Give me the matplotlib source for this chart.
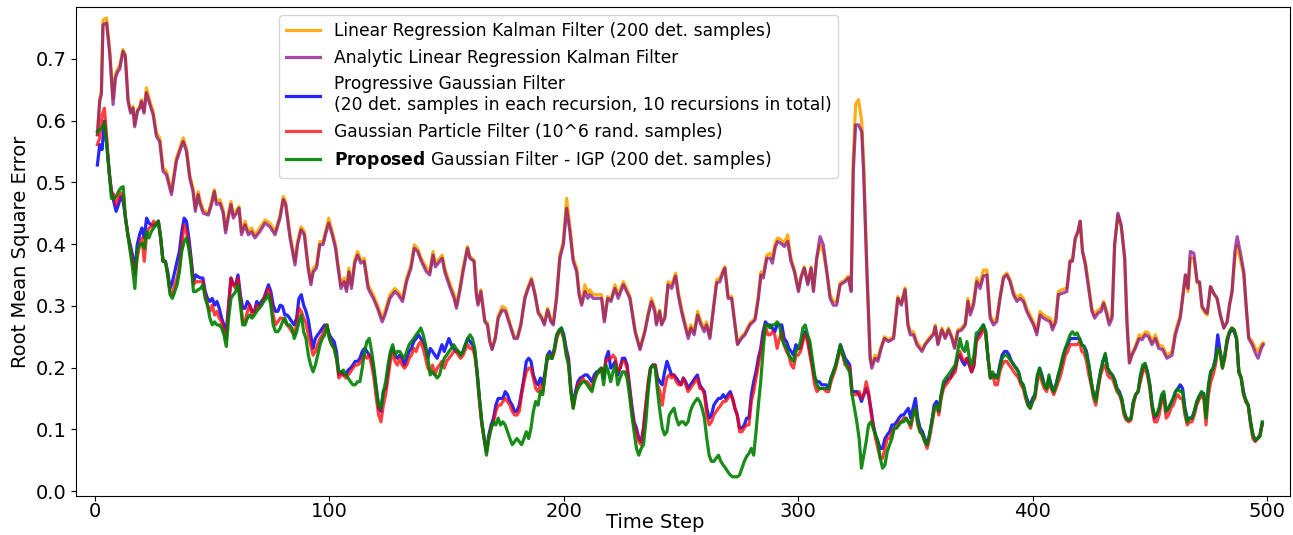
import matplotlib.pyplot as plt
import numpy as np

# RMSE per time step; the two Kalman-type curves are stored at their turning points
t_upper = [
    1, 2, 2.7, 3.4, 4.9, 6.3, 7.7, 8.7, 9.8, 10.5,
    11.9, 12.9, 14.1, 15.2, 16.2, 16.9, 18.1, 19.1, 19.8, 20.9,
    21.9, 23.4, 24.8, 26.2, 27.6, 29.0, 30.5, 32.6, 34.7, 36.1,
    37.6, 39.0, 40.4, 41.8, 42.8, 44.0, 44.7, 46.2, 48.3, 49.7,
    50.9, 51.8, 53.3, 54.7, 55.7, 56.8, 58.0, 59.0, 60.4, 61.4,
    62.5, 64.0, 65.4, 66.8, 68.2, 70.3, 72.5, 74.6, 76.8, 78.9,
    80.3, 81.3, 83.2, 85.3, 86.4, 87.9, 89.3, 90.9, 92.1, 93.1,
    94.5, 95.9, 97.3, 98.3, 99.7, 101.2, 102.6, 103.7, 104.9, 106.3,
    107.3, 108.3, 109.4, 110.8, 112.0, 113.4, 114.8, 116.5, 118.7, 120.5,
    121.5, 122.5, 123.7, 125.8, 127.9, 129.3, 131.2, 132.9, 134.8, 136.2,
    137.6, 139.2, 141.4, 142.8, 144.2, 145.2, 147.1, 148.1, 149.2, 151.3,
    153.2, 154.2, 155.6, 157.0, 158.9, 159.9, 161.7, 162.7, 163.4, 164.6,
    166.3, 167.4, 168.4, 169.4, 170.8, 172.0, 173.7, 175.1, 177.0, 178.8,
    180.2, 181.7, 183.4, 184.8, 186.2, 187.7, 189.1, 190.5, 191.7, 193.1,
    194.5, 195.5, 196.9, 198.3, 199.8, 201.2, 202.6, 204.0, 205.5, 206.5,
    207.6, 209.0, 210.2, 211.1, 212.6, 214.0, 216.1, 217.3, 218.7, 220.1,
    221.8, 223.2, 225.4, 226.8, 228.2, 230.4, 232.5, 234.6, 236.0, 237.4,
    238.8, 239.5, 240.9, 241.7, 243.1, 244.5, 246.0, 247.7, 248.8, 250.2,
    251.6, 253.1, 254.2, 255.6, 257.1, 258.5, 259.9, 260.9, 262.3, 263.7,
    265.2, 266.6, 268.0, 268.7, 270.1, 271.6, 273.0, 274.1, 275.8, 277.3,
    279.4, 281.6, 283.0, 284.1, 285.1, 286.6, 288.0, 289.0, 290.1, 291.2,
    292.7, 294.1, 295.5, 296.9, 298.4, 300.1, 301.2, 302.6, 304.1, 305.5,
    306.5, 307.9, 309.3, 310.7, 312.2, 313.6, 315.0, 316.4, 317.9, 320.0,
    321.4, 322.6, 323.5, 324.5, 325.7, 327.1, 327.9, 329.3, 330.7, 331.4,
    332.8, 334.0, 335.4, 336.8, 338.5, 340.7, 342.5, 344.0, 345.6, 346.8,
    347.8, 349.2, 350.6, 352.8, 354.2, 356.3, 357.7, 358.5, 359.6, 361.3,
    362.7, 364.1, 365.6, 366.7, 368.1, 369.8, 371.3, 372.4, 373.4, 374.8,
    376.2, 377.6, 379.0, 380.5, 381.9, 383.3, 384.7, 386.1, 387.6, 389.0,
    390.4, 391.8, 393.3, 394.7, 396.1, 397.5, 398.9, 400.4, 401.8, 403.2,
    404.6, 406.1, 407.5, 408.5, 409.9, 411.0, 412.5, 414.6, 416.0, 417.0,
    418.2, 419.3, 420.3, 421.3, 422.5, 423.9, 425.3, 426.5, 427.9, 429.3,
    430.3, 431.7, 432.7, 433.9, 435.0, 436.4, 437.8, 439.3, 440.3, 441.3,
    442.4, 443.8, 445.5, 446.7, 448.1, 449.5, 450.9, 452.4, 453.8, 455.5,
    457.3, 459.5, 460.9, 463.0, 464.0, 465.2, 466.3, 467.3, 468.8, 470.2,
    471.2, 472.3, 473.7, 474.5, 475.9, 477.3, 478.7, 480.1, 481.6, 483.0,
    484.0, 485.1, 486.3, 487.3, 488.7, 490.1, 491.1, 492.2, 493.7, 495.1,
    496.2, 497.6, 498.4,
]

lrkf_rmse = [
    0.577, 0.636, 0.647, 0.763, 0.766, 0.712, 0.636, 0.675, 0.685, 0.688,
    0.715, 0.707, 0.634, 0.615, 0.623, 0.593, 0.618, 0.623, 0.634, 0.615,
    0.653, 0.631, 0.615, 0.580, 0.572, 0.523, 0.518, 0.485, 0.539, 0.555,
    0.572, 0.555, 0.512, 0.491, 0.458, 0.485, 0.472, 0.455, 0.450, 0.469,
    0.488, 0.469, 0.472, 0.455, 0.423, 0.447, 0.469, 0.447, 0.455, 0.461,
    0.420, 0.437, 0.420, 0.426, 0.415, 0.426, 0.439, 0.434, 0.420, 0.445,
    0.477, 0.469, 0.415, 0.372, 0.404, 0.428, 0.420, 0.366, 0.339, 0.361,
    0.366, 0.404, 0.404, 0.420, 0.442, 0.420, 0.399, 0.366, 0.334, 0.345,
    0.328, 0.361, 0.334, 0.374, 0.388, 0.374, 0.377, 0.334, 0.318, 0.301,
    0.291, 0.280, 0.291, 0.318, 0.328, 0.323, 0.312, 0.345, 0.366, 0.399,
    0.393, 0.377, 0.361, 0.355, 0.388, 0.369, 0.377, 0.382, 0.361, 0.337,
    0.318, 0.301, 0.328, 0.361, 0.396, 0.380, 0.374, 0.320, 0.304, 0.326,
    0.277, 0.272, 0.245, 0.231, 0.250, 0.283, 0.299, 0.296, 0.272, 0.250,
    0.250, 0.272, 0.315, 0.331, 0.345, 0.320, 0.291, 0.283, 0.272, 0.296,
    0.277, 0.272, 0.315, 0.382, 0.404, 0.474, 0.428, 0.377, 0.361, 0.323,
    0.304, 0.334, 0.320, 0.326, 0.318, 0.318, 0.318, 0.277, 0.315, 0.310,
    0.334, 0.318, 0.339, 0.328, 0.315, 0.261, 0.231, 0.261, 0.288, 0.312,
    0.296, 0.272, 0.293, 0.272, 0.283, 0.339, 0.334, 0.353, 0.323, 0.296,
    0.274, 0.253, 0.269, 0.258, 0.291, 0.274, 0.264, 0.274, 0.250, 0.293,
    0.342, 0.345, 0.358, 0.363, 0.315, 0.315, 0.272, 0.239, 0.250, 0.256,
    0.272, 0.280, 0.315, 0.355, 0.350, 0.382, 0.385, 0.377, 0.401, 0.410,
    0.407, 0.401, 0.415, 0.377, 0.358, 0.326, 0.348, 0.363, 0.337, 0.363,
    0.326, 0.377, 0.399, 0.388, 0.355, 0.318, 0.307, 0.307, 0.337, 0.342,
    0.348, 0.326, 0.540, 0.626, 0.634, 0.599, 0.530, 0.361, 0.218, 0.204,
    0.220, 0.215, 0.234, 0.250, 0.245, 0.250, 0.315, 0.304, 0.329, 0.272,
    0.258, 0.258, 0.242, 0.229, 0.239, 0.250, 0.256, 0.269, 0.239, 0.264,
    0.250, 0.264, 0.250, 0.234, 0.261, 0.264, 0.272, 0.312, 0.291, 0.307,
    0.345, 0.334, 0.358, 0.358, 0.285, 0.274, 0.280, 0.315, 0.348, 0.353,
    0.342, 0.323, 0.312, 0.318, 0.312, 0.296, 0.285, 0.274, 0.258, 0.291,
    0.285, 0.282, 0.280, 0.266, 0.280, 0.323, 0.326, 0.329, 0.374, 0.374,
    0.407, 0.418, 0.437, 0.388, 0.372, 0.334, 0.296, 0.285, 0.293, 0.296,
    0.307, 0.291, 0.274, 0.285, 0.399, 0.447, 0.428, 0.377, 0.272, 0.210,
    0.223, 0.234, 0.253, 0.250, 0.258, 0.256, 0.242, 0.253, 0.237, 0.234,
    0.220, 0.226, 0.258, 0.285, 0.315, 0.350, 0.323, 0.377, 0.377, 0.337,
    0.337, 0.296, 0.288, 0.285, 0.331, 0.320, 0.312, 0.285, 0.264, 0.274,
    0.301, 0.323, 0.377, 0.397, 0.374, 0.350, 0.299, 0.250, 0.242, 0.231,
    0.226, 0.237, 0.240,
]

alrkf_rmse = [
    0.577, 0.631, 0.642, 0.755, 0.758, 0.707, 0.626, 0.669, 0.680, 0.683,
    0.712, 0.704, 0.631, 0.612, 0.620, 0.590, 0.615, 0.620, 0.631, 0.612,
    0.645, 0.626, 0.609, 0.574, 0.566, 0.518, 0.512, 0.480, 0.534, 0.550,
    0.566, 0.550, 0.507, 0.485, 0.453, 0.480, 0.466, 0.450, 0.447, 0.464,
    0.485, 0.464, 0.466, 0.450, 0.418, 0.442, 0.464, 0.442, 0.450, 0.458,
    0.415, 0.431, 0.415, 0.420, 0.410, 0.420, 0.434, 0.428, 0.415, 0.442,
    0.472, 0.464, 0.410, 0.366, 0.399, 0.423, 0.415, 0.361, 0.334, 0.355,
    0.361, 0.399, 0.399, 0.415, 0.434, 0.415, 0.393, 0.361, 0.328, 0.339,
    0.323, 0.355, 0.328, 0.369, 0.382, 0.369, 0.372, 0.328, 0.312, 0.296,
    0.285, 0.274, 0.285, 0.312, 0.323, 0.318, 0.307, 0.339, 0.361, 0.393,
    0.388, 0.372, 0.355, 0.350, 0.382, 0.363, 0.372, 0.377, 0.355, 0.331,
    0.312, 0.296, 0.323, 0.355, 0.393, 0.377, 0.372, 0.318, 0.301, 0.323,
    0.274, 0.269, 0.242, 0.229, 0.247, 0.280, 0.293, 0.291, 0.269, 0.247,
    0.247, 0.269, 0.312, 0.328, 0.342, 0.318, 0.288, 0.280, 0.269, 0.293,
    0.274, 0.269, 0.312, 0.377, 0.399, 0.458, 0.420, 0.372, 0.355, 0.318,
    0.301, 0.323, 0.312, 0.318, 0.312, 0.312, 0.312, 0.274, 0.312, 0.307,
    0.328, 0.312, 0.334, 0.323, 0.312, 0.258, 0.229, 0.258, 0.285, 0.307,
    0.291, 0.269, 0.291, 0.269, 0.280, 0.334, 0.328, 0.348, 0.318, 0.291,
    0.269, 0.247, 0.264, 0.253, 0.285, 0.269, 0.258, 0.269, 0.247, 0.291,
    0.337, 0.339, 0.355, 0.361, 0.312, 0.312, 0.269, 0.237, 0.247, 0.253,
    0.269, 0.277, 0.312, 0.350, 0.345, 0.377, 0.377, 0.369, 0.393, 0.404,
    0.401, 0.396, 0.404, 0.372, 0.355, 0.323, 0.345, 0.361, 0.334, 0.361,
    0.323, 0.377, 0.412, 0.399, 0.355, 0.312, 0.301, 0.301, 0.334, 0.339,
    0.345, 0.323, 0.518, 0.593, 0.593, 0.582, 0.518, 0.355, 0.215, 0.199,
    0.215, 0.210, 0.231, 0.247, 0.242, 0.247, 0.312, 0.301, 0.326, 0.269,
    0.253, 0.253, 0.237, 0.226, 0.237, 0.247, 0.253, 0.266, 0.237, 0.261,
    0.247, 0.261, 0.247, 0.231, 0.258, 0.261, 0.269, 0.307, 0.285, 0.301,
    0.339, 0.328, 0.348, 0.350, 0.280, 0.269, 0.274, 0.312, 0.345, 0.350,
    0.339, 0.318, 0.307, 0.312, 0.307, 0.291, 0.280, 0.269, 0.253, 0.285,
    0.280, 0.277, 0.274, 0.261, 0.274, 0.318, 0.320, 0.323, 0.372, 0.372,
    0.410, 0.420, 0.437, 0.388, 0.366, 0.328, 0.291, 0.280, 0.288, 0.291,
    0.304, 0.285, 0.269, 0.280, 0.399, 0.450, 0.431, 0.377, 0.269, 0.207,
    0.220, 0.231, 0.247, 0.245, 0.253, 0.250, 0.237, 0.247, 0.231, 0.229,
    0.215, 0.220, 0.253, 0.280, 0.312, 0.350, 0.328, 0.388, 0.385, 0.339,
    0.339, 0.299, 0.291, 0.288, 0.331, 0.320, 0.312, 0.285, 0.264, 0.274,
    0.301, 0.323, 0.388, 0.412, 0.385, 0.355, 0.301, 0.247, 0.237, 0.223,
    0.215, 0.231, 0.237,
]

# sample-based filters, one value per time step starting at step 1
pgf_rmse = [
    0.528, 0.561, 0.553, 0.599, 0.561, 0.518, 0.485, 0.469, 0.453, 0.464,
    0.477, 0.469, 0.442, 0.415, 0.399, 0.382, 0.355, 0.399, 0.415, 0.426,
    0.410, 0.442, 0.434, 0.431, 0.431, 0.431, 0.437, 0.410, 0.372, 0.372,
    0.355, 0.328, 0.339, 0.355, 0.372, 0.388, 0.420, 0.442, 0.437, 0.410,
    0.377, 0.339, 0.350, 0.347, 0.345, 0.345, 0.323, 0.312, 0.307, 0.312,
    0.301, 0.307, 0.296, 0.280, 0.269, 0.258, 0.301, 0.345, 0.334, 0.334,
    0.350, 0.318, 0.296, 0.296, 0.307, 0.301, 0.291, 0.291, 0.307, 0.301,
    0.307, 0.312, 0.323, 0.334, 0.323, 0.301, 0.291, 0.291, 0.301, 0.299,
    0.285, 0.285, 0.280, 0.274, 0.269, 0.280, 0.312, 0.318, 0.301, 0.291,
    0.277, 0.253, 0.231, 0.247, 0.253, 0.258, 0.264, 0.269, 0.266, 0.253,
    0.247, 0.242, 0.226, 0.188, 0.193, 0.188, 0.188, 0.196, 0.199, 0.204,
    0.210, 0.210, 0.215, 0.226, 0.231, 0.226, 0.220, 0.215, 0.193, 0.166,
    0.134, 0.129, 0.161, 0.166, 0.193, 0.220, 0.231, 0.220, 0.215, 0.220,
    0.215, 0.204, 0.215, 0.226, 0.231, 0.242, 0.247, 0.253, 0.247, 0.242,
    0.231, 0.215, 0.231, 0.226, 0.220, 0.215, 0.226, 0.237, 0.226, 0.237,
    0.247, 0.237, 0.231, 0.226, 0.226, 0.220, 0.226, 0.237, 0.247, 0.242,
    0.237, 0.226, 0.193, 0.150, 0.112, 0.085, 0.064, 0.091, 0.107, 0.118,
    0.139, 0.150, 0.150, 0.150, 0.161, 0.156, 0.145, 0.139, 0.129, 0.129,
    0.139, 0.161, 0.183, 0.210, 0.215, 0.210, 0.188, 0.177, 0.172, 0.183,
    0.172, 0.193, 0.220, 0.226, 0.215, 0.231, 0.253, 0.258, 0.264, 0.253,
    0.231, 0.215, 0.166, 0.139, 0.161, 0.177, 0.183, 0.185, 0.188, 0.188,
    0.183, 0.177, 0.188, 0.193, 0.193, 0.199, 0.183, 0.215, 0.226, 0.199,
    0.204, 0.210, 0.188, 0.199, 0.215, 0.215, 0.204, 0.172, 0.139, 0.112,
    0.102, 0.085, 0.080, 0.102, 0.139, 0.172, 0.199, 0.204, 0.204, 0.183,
    0.177, 0.172, 0.193, 0.210, 0.199, 0.188, 0.188, 0.183, 0.177, 0.172,
    0.183, 0.177, 0.166, 0.172, 0.177, 0.183, 0.188, 0.172, 0.166, 0.161,
    0.134, 0.118, 0.123, 0.139, 0.145, 0.150, 0.150, 0.156, 0.150, 0.156,
    0.161, 0.150, 0.134, 0.123, 0.102, 0.102, 0.107, 0.118, 0.118, 0.156,
    0.177, 0.193, 0.215, 0.231, 0.258, 0.274, 0.269, 0.269, 0.264, 0.258,
    0.269, 0.269, 0.269, 0.247, 0.242, 0.231, 0.226, 0.220, 0.237, 0.231,
    0.231, 0.247, 0.258, 0.247, 0.226, 0.204, 0.183, 0.177, 0.177, 0.172,
    0.172, 0.172, 0.166, 0.183, 0.193, 0.204, 0.220, 0.237, 0.226, 0.215,
    0.210, 0.204, 0.161, 0.161, 0.161, 0.156, 0.145, 0.156, 0.166, 0.156,
    0.134, 0.107, 0.091, 0.080, 0.069, 0.069, 0.085, 0.091, 0.096, 0.107,
    0.107, 0.112, 0.118, 0.123, 0.123, 0.129, 0.134, 0.118, 0.134, 0.150,
    0.118, 0.102, 0.096, 0.085, 0.075, 0.091, 0.112, 0.139, 0.145, 0.129,
    0.156, 0.172, 0.177, 0.183, 0.183, 0.193, 0.199, 0.215, 0.220, 0.210,
    0.204, 0.215, 0.204, 0.193, 0.204, 0.247, 0.253, 0.258, 0.269, 0.258,
    0.215, 0.183, 0.188, 0.188, 0.183, 0.204, 0.220, 0.226, 0.226, 0.220,
    0.210, 0.204, 0.199, 0.193, 0.177, 0.172, 0.156, 0.145, 0.139, 0.150,
    0.156, 0.183, 0.199, 0.188, 0.172, 0.166, 0.183, 0.172, 0.161, 0.172,
    0.188, 0.199, 0.215, 0.231, 0.237, 0.247, 0.247, 0.247, 0.247, 0.247,
    0.237, 0.234, 0.226, 0.204, 0.177, 0.156, 0.150, 0.172, 0.193, 0.210,
    0.220, 0.199, 0.191, 0.188, 0.180, 0.166, 0.161, 0.150, 0.129, 0.118,
    0.115, 0.118, 0.145, 0.156, 0.161, 0.183, 0.199, 0.204, 0.193, 0.172,
    0.139, 0.118, 0.123, 0.134, 0.150, 0.156, 0.129, 0.134, 0.142, 0.150,
    0.161, 0.166, 0.172, 0.166, 0.134, 0.118, 0.118, 0.118, 0.129, 0.142,
    0.153, 0.158, 0.158, 0.123, 0.166, 0.193, 0.199, 0.215, 0.253, 0.226,
    0.204, 0.220, 0.242, 0.256, 0.261, 0.258, 0.247, 0.193, 0.183, 0.161,
    0.145, 0.139, 0.112, 0.091, 0.082, 0.085, 0.091, 0.110,
]

gpf_rmse = [
    0.561, 0.572, 0.609, 0.620, 0.572, 0.518, 0.485, 0.480, 0.464, 0.474,
    0.483, 0.480, 0.442, 0.415, 0.393, 0.372, 0.350, 0.377, 0.399, 0.410,
    0.372, 0.415, 0.426, 0.428, 0.437, 0.431, 0.437, 0.410, 0.372, 0.372,
    0.350, 0.323, 0.318, 0.334, 0.345, 0.366, 0.399, 0.431, 0.420, 0.399,
    0.372, 0.334, 0.339, 0.339, 0.339, 0.339, 0.318, 0.301, 0.291, 0.301,
    0.285, 0.291, 0.280, 0.274, 0.258, 0.247, 0.301, 0.345, 0.334, 0.328,
    0.345, 0.312, 0.274, 0.274, 0.291, 0.301, 0.285, 0.291, 0.301, 0.296,
    0.301, 0.312, 0.318, 0.328, 0.312, 0.285, 0.269, 0.274, 0.280, 0.280,
    0.274, 0.269, 0.264, 0.258, 0.253, 0.269, 0.296, 0.291, 0.280, 0.272,
    0.253, 0.237, 0.220, 0.226, 0.237, 0.247, 0.253, 0.264, 0.269, 0.247,
    0.237, 0.231, 0.215, 0.183, 0.188, 0.188, 0.183, 0.188, 0.193, 0.199,
    0.204, 0.204, 0.207, 0.215, 0.220, 0.215, 0.220, 0.204, 0.183, 0.150,
    0.123, 0.112, 0.139, 0.156, 0.183, 0.210, 0.226, 0.210, 0.204, 0.215,
    0.204, 0.199, 0.204, 0.215, 0.220, 0.231, 0.226, 0.237, 0.242, 0.231,
    0.215, 0.199, 0.193, 0.204, 0.188, 0.199, 0.204, 0.210, 0.199, 0.210,
    0.215, 0.220, 0.226, 0.226, 0.220, 0.215, 0.220, 0.229, 0.237, 0.231,
    0.231, 0.220, 0.188, 0.145, 0.107, 0.085, 0.064, 0.085, 0.102, 0.112,
    0.129, 0.139, 0.139, 0.145, 0.150, 0.145, 0.139, 0.129, 0.123, 0.123,
    0.129, 0.156, 0.177, 0.193, 0.199, 0.199, 0.183, 0.166, 0.161, 0.172,
    0.161, 0.188, 0.215, 0.220, 0.215, 0.226, 0.247, 0.258, 0.258, 0.247,
    0.226, 0.210, 0.161, 0.134, 0.156, 0.172, 0.177, 0.183, 0.177, 0.177,
    0.172, 0.166, 0.183, 0.188, 0.193, 0.199, 0.188, 0.210, 0.215, 0.215,
    0.220, 0.215, 0.193, 0.199, 0.210, 0.210, 0.199, 0.166, 0.134, 0.107,
    0.096, 0.080, 0.075, 0.102, 0.139, 0.177, 0.199, 0.204, 0.204, 0.172,
    0.161, 0.139, 0.166, 0.183, 0.188, 0.183, 0.188, 0.177, 0.172, 0.172,
    0.183, 0.172, 0.161, 0.166, 0.172, 0.177, 0.183, 0.166, 0.166, 0.156,
    0.123, 0.107, 0.112, 0.123, 0.129, 0.134, 0.139, 0.145, 0.145, 0.150,
    0.156, 0.150, 0.134, 0.123, 0.096, 0.096, 0.102, 0.107, 0.107, 0.145,
    0.161, 0.183, 0.204, 0.226, 0.247, 0.269, 0.253, 0.253, 0.258, 0.253,
    0.231, 0.247, 0.258, 0.237, 0.226, 0.220, 0.204, 0.199, 0.220, 0.220,
    0.226, 0.242, 0.253, 0.242, 0.220, 0.199, 0.172, 0.161, 0.166, 0.166,
    0.166, 0.161, 0.161, 0.177, 0.188, 0.199, 0.215, 0.231, 0.220, 0.204,
    0.204, 0.199, 0.156, 0.156, 0.156, 0.161, 0.150, 0.156, 0.177, 0.161,
    0.129, 0.107, 0.085, 0.069, 0.053, 0.053, 0.069, 0.085, 0.085, 0.096,
    0.102, 0.102, 0.112, 0.112, 0.118, 0.118, 0.112, 0.102, 0.123, 0.134,
    0.107, 0.096, 0.091, 0.080, 0.069, 0.085, 0.107, 0.129, 0.139, 0.123,
    0.150, 0.166, 0.172, 0.177, 0.183, 0.188, 0.193, 0.215, 0.226, 0.215,
    0.210, 0.215, 0.204, 0.193, 0.204, 0.242, 0.247, 0.253, 0.264, 0.253,
    0.215, 0.183, 0.188, 0.172, 0.172, 0.193, 0.204, 0.210, 0.210, 0.204,
    0.199, 0.193, 0.188, 0.183, 0.172, 0.166, 0.150, 0.139, 0.134, 0.145,
    0.150, 0.177, 0.193, 0.177, 0.166, 0.161, 0.177, 0.166, 0.156, 0.166,
    0.177, 0.188, 0.204, 0.220, 0.226, 0.237, 0.237, 0.237, 0.237, 0.242,
    0.226, 0.223, 0.210, 0.188, 0.172, 0.150, 0.139, 0.166, 0.188, 0.199,
    0.204, 0.188, 0.183, 0.183, 0.172, 0.161, 0.156, 0.145, 0.123, 0.115,
    0.112, 0.115, 0.139, 0.156, 0.161, 0.177, 0.193, 0.199, 0.188, 0.166,
    0.134, 0.112, 0.112, 0.123, 0.145, 0.150, 0.118, 0.123, 0.134, 0.139,
    0.150, 0.156, 0.150, 0.150, 0.123, 0.107, 0.112, 0.112, 0.123, 0.139,
    0.148, 0.153, 0.153, 0.107, 0.156, 0.177, 0.188, 0.204, 0.231, 0.226,
    0.199, 0.215, 0.242, 0.258, 0.264, 0.261, 0.247, 0.193, 0.183, 0.156,
    0.145, 0.139, 0.107, 0.085, 0.080, 0.085, 0.091, 0.107,
]

igp_rmse = [
    0.582, 0.585, 0.588, 0.596, 0.561, 0.518, 0.474, 0.474, 0.477, 0.485,
    0.491, 0.493, 0.442, 0.415, 0.388, 0.361, 0.328, 0.388, 0.399, 0.401,
    0.393, 0.420, 0.410, 0.420, 0.426, 0.431, 0.437, 0.410, 0.372, 0.372,
    0.350, 0.318, 0.312, 0.323, 0.334, 0.355, 0.388, 0.404, 0.410, 0.393,
    0.366, 0.323, 0.323, 0.326, 0.328, 0.334, 0.312, 0.301, 0.280, 0.269,
    0.274, 0.269, 0.269, 0.264, 0.253, 0.234, 0.280, 0.312, 0.318, 0.323,
    0.334, 0.301, 0.269, 0.269, 0.280, 0.285, 0.280, 0.285, 0.291, 0.296,
    0.301, 0.307, 0.312, 0.318, 0.301, 0.269, 0.258, 0.258, 0.264, 0.274,
    0.280, 0.269, 0.269, 0.264, 0.247, 0.258, 0.274, 0.285, 0.258, 0.247,
    0.220, 0.204, 0.193, 0.204, 0.220, 0.237, 0.247, 0.253, 0.269, 0.247,
    0.237, 0.231, 0.215, 0.193, 0.193, 0.196, 0.188, 0.183, 0.177, 0.172,
    0.172, 0.177, 0.177, 0.199, 0.226, 0.242, 0.247, 0.226, 0.199, 0.166,
    0.139, 0.134, 0.161, 0.177, 0.204, 0.226, 0.237, 0.220, 0.226, 0.226,
    0.220, 0.215, 0.226, 0.237, 0.242, 0.247, 0.253, 0.258, 0.264, 0.253,
    0.237, 0.215, 0.188, 0.193, 0.188, 0.183, 0.188, 0.204, 0.215, 0.220,
    0.226, 0.231, 0.237, 0.231, 0.226, 0.220, 0.226, 0.237, 0.247, 0.253,
    0.247, 0.231, 0.193, 0.150, 0.112, 0.085, 0.058, 0.085, 0.102, 0.112,
    0.107, 0.118, 0.107, 0.112, 0.107, 0.096, 0.085, 0.075, 0.080, 0.085,
    0.080, 0.075, 0.085, 0.096, 0.085, 0.102, 0.129, 0.145, 0.139, 0.161,
    0.156, 0.188, 0.220, 0.215, 0.215, 0.231, 0.253, 0.261, 0.264, 0.247,
    0.220, 0.204, 0.161, 0.134, 0.156, 0.166, 0.172, 0.177, 0.177, 0.172,
    0.166, 0.161, 0.177, 0.188, 0.196, 0.199, 0.172, 0.204, 0.193, 0.177,
    0.193, 0.204, 0.172, 0.183, 0.193, 0.193, 0.183, 0.156, 0.123, 0.096,
    0.069, 0.058, 0.069, 0.075, 0.112, 0.161, 0.199, 0.204, 0.199, 0.161,
    0.129, 0.102, 0.091, 0.096, 0.123, 0.129, 0.134, 0.118, 0.107, 0.112,
    0.112, 0.107, 0.112, 0.129, 0.139, 0.145, 0.150, 0.145, 0.134, 0.118,
    0.085, 0.058, 0.048, 0.048, 0.053, 0.058, 0.048, 0.042, 0.037, 0.031,
    0.026, 0.023, 0.023, 0.023, 0.026, 0.037, 0.048, 0.056, 0.061, 0.069,
    0.058, 0.096, 0.139, 0.177, 0.226, 0.269, 0.269, 0.264, 0.269, 0.269,
    0.274, 0.269, 0.247, 0.237, 0.231, 0.220, 0.215, 0.210, 0.226, 0.231,
    0.242, 0.264, 0.269, 0.253, 0.242, 0.215, 0.188, 0.172, 0.166, 0.166,
    0.166, 0.166, 0.166, 0.183, 0.193, 0.204, 0.220, 0.237, 0.220, 0.210,
    0.199, 0.193, 0.156, 0.134, 0.112, 0.085, 0.037, 0.058, 0.080, 0.107,
    0.112, 0.102, 0.091, 0.080, 0.053, 0.037, 0.042, 0.064, 0.075, 0.085,
    0.102, 0.102, 0.107, 0.112, 0.112, 0.118, 0.112, 0.107, 0.123, 0.134,
    0.112, 0.096, 0.091, 0.080, 0.075, 0.091, 0.112, 0.134, 0.139, 0.129,
    0.156, 0.177, 0.183, 0.188, 0.193, 0.199, 0.204, 0.226, 0.247, 0.231,
    0.226, 0.242, 0.215, 0.204, 0.220, 0.256, 0.258, 0.264, 0.269, 0.258,
    0.215, 0.183, 0.193, 0.183, 0.183, 0.199, 0.215, 0.220, 0.220, 0.215,
    0.210, 0.204, 0.199, 0.193, 0.177, 0.172, 0.156, 0.139, 0.134, 0.145,
    0.156, 0.188, 0.199, 0.183, 0.172, 0.166, 0.188, 0.166, 0.161, 0.172,
    0.188, 0.204, 0.220, 0.231, 0.242, 0.253, 0.258, 0.253, 0.256, 0.247,
    0.237, 0.234, 0.220, 0.204, 0.177, 0.156, 0.145, 0.172, 0.193, 0.210,
    0.223, 0.199, 0.193, 0.188, 0.180, 0.166, 0.158, 0.150, 0.129, 0.118,
    0.115, 0.118, 0.145, 0.156, 0.161, 0.188, 0.204, 0.207, 0.193, 0.172,
    0.139, 0.123, 0.123, 0.134, 0.156, 0.161, 0.129, 0.134, 0.142, 0.150,
    0.161, 0.166, 0.161, 0.161, 0.129, 0.112, 0.118, 0.118, 0.129, 0.145,
    0.153, 0.161, 0.158, 0.118, 0.172, 0.193, 0.199, 0.210, 0.231, 0.226,
    0.199, 0.220, 0.247, 0.258, 0.264, 0.261, 0.247, 0.193, 0.183, 0.156,
    0.148, 0.139, 0.112, 0.091, 0.082, 0.085, 0.088, 0.112,
]

labels = [
    "Linear Regression Kalman Filter (200 det. samples)",
    "Analytic Linear Regression Kalman Filter",
    "Progressive Gaussian Filter\n(20 det. samples in each recursion, 10 recursions in total)",
    "Gaussian Particle Filter (10^6 rand. samples)",
    r"$\bf{Proposed}$ Gaussian Filter - IGP (200 det. samples)",
]
colors = ["orange", "purple", "blue", "red", "green"]
alphas = [0.9, 0.7, 0.85, 0.75, 0.9]


def steps(values):
    return np.arange(1, len(values) + 1)


fig, ax = plt.subplots(figsize=(12.93, 5.35), dpi=100)

series = [
    (t_upper, lrkf_rmse),
    (t_upper, alrkf_rmse),
    (steps(pgf_rmse), pgf_rmse),
    (steps(gpf_rmse), gpf_rmse),
    (steps(igp_rmse), igp_rmse),
]
for (t, y), c, a, lab in zip(series, colors, alphas, labels):
    ax.plot(t, y, color=c, alpha=a, lw=2.3, label=lab)

ax.set_xlim(-8, 510)
ax.set_ylim(-0.008, 0.784)
ax.set_xlabel("Time Step", fontsize=14, labelpad=-6, x=0.477)
ax.set_ylabel("Root Mean Square Error", fontsize=14)
ax.tick_params(labelsize=14)
ax.tick_params(axis="x", pad=1)
ax.legend(loc="upper left", bbox_to_anchor=(0.16, 1.0), fontsize=12.3)

fig.subplots_adjust(left=0.059, right=0.998, top=0.987, bottom=0.073)
fig.savefig("out.png")
